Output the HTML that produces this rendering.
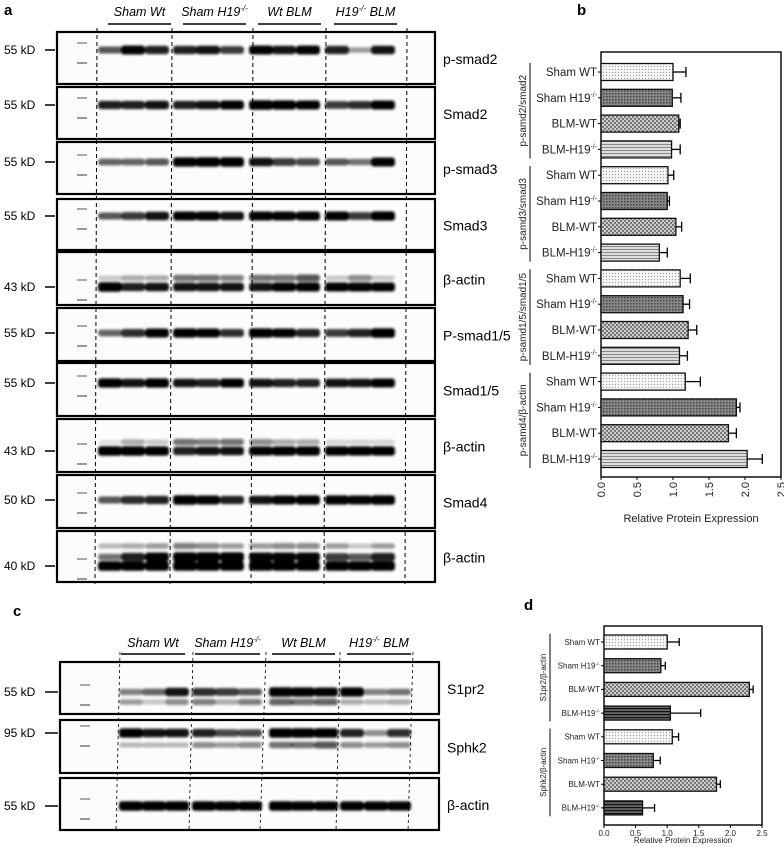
<!DOCTYPE html>
<html><head><meta charset="utf-8">
<style>
body{margin:0;background:#fff;}
svg{display:block;font-family:"Liberation Sans",sans-serif;}
</style></head>
<body>
<svg id="fig" width="784" height="847" viewBox="0 0 784 847" xmlns="http://www.w3.org/2000/svg">
<defs>
<filter id="blur" x="-20%" y="-100%" width="140%" height="300%"><feGaussianBlur stdDeviation="1.4 1.3"/></filter>
<pattern id="pDots" width="3" height="3" patternUnits="userSpaceOnUse"><rect width="3" height="3" fill="#f4f4f4"/><rect width="1" height="1" fill="#999"/></pattern>
<pattern id="pDark" width="3" height="3" patternUnits="userSpaceOnUse"><rect width="3" height="3" fill="#888"/><rect width="1.5" height="1.5" fill="#444"/></pattern>
<pattern id="pCheck" width="4" height="4" patternUnits="userSpaceOnUse"><rect width="4" height="4" fill="#ccc"/><rect width="2" height="2" fill="#777"/><rect x="2" y="2" width="2" height="2" fill="#777"/></pattern>
<pattern id="pStripe" width="3" height="3" patternUnits="userSpaceOnUse"><rect width="3" height="3" fill="#ddd"/><rect width="3" height="1" fill="#888"/></pattern>
<pattern id="pStripeD" width="3" height="3" patternUnits="userSpaceOnUse"><rect width="3" height="3" fill="#666"/><rect width="3" height="1.2" fill="#111"/></pattern>
</defs>
<g id="blots"></g>
<g id="chartB"></g>
<g id="chartD"></g>
<text x="4" y="15" font-size="15" font-weight="bold">a</text>
<text x="577" y="15" font-size="15" font-weight="bold">b</text>
<text x="13" y="616" font-size="15" font-weight="bold">c</text>
<text x="524" y="610" font-size="15" font-weight="bold">d</text>
</svg>
<script>
const NS="http://www.w3.org/2000/svg";
function mk(p,t,a){const e=document.createElementNS(NS,t);for(const k in a)e.setAttribute(k,a[k]);p.appendChild(e);return e;}

// ---------- Blots ----------
const blots=document.getElementById('blots');
const groupsA=["Sham Wt","Sham  H19","Wt  BLM","H19 BLM"];
const rowsA=[
 {name:"p-smad2",kd:"55 kD",y0:32,y1:84,band:[50],I:[[.6,.9,.8,.8,.85,.7,.9,.85,.9,.8,.35,.85]]},
 {name:"Smad2",kd:"55 kD",y0:87,y1:139,band:[105],I:[[.8,.8,.85,.8,.85,.9,1,.95,.9,.7,.75,.9]]},
 {name:"p-smad3",kd:"55 kD",y0:142,y1:194,band:[162],I:[[.55,.55,.6,.95,1,1,.85,.7,.65,.6,.5,.9]]},
 {name:"Smad3",kd:"55 kD",y0:199,y1:250,band:[216],I:[[.6,.7,.85,.9,.9,.85,.9,.9,.9,.9,.7,.95]]},
 {name:"β-actin",kd:"43 kD",y0:252,y1:305,band:[287,278],I:[[1,.8,.85,.85,.85,.85,.85,.9,.9,.9,.9,.9],[.2,.3,.3,.5,.5,.45,.5,.5,.6,.2,.4,.2]]},
 {name:"P-smad1/5",kd:"55 kD",y0:308,y1:361,band:[333],I:[[.55,.75,.9,.95,.9,.75,.95,.9,.8,.7,.8,1]]},
 {name:"Smad1/5",kd:"55 kD",y0:363,y1:416,band:[383],I:[[.95,.85,.95,.85,.8,.9,.85,.8,.8,.85,.85,.9]]},
 {name:"β-actin",kd:"43 kD",y0:419,y1:472,band:[451,442],I:[[1,1,.95,.8,.85,.85,.9,.95,.95,.95,.95,.95],[.1,.3,.2,.5,.45,.5,.4,.3,.3,.15,.15,.15]]},
 {name:"Smad4",kd:"50 kD",y0:475,y1:528,band:[500],I:[[.6,.75,.8,1,.9,.8,.85,.9,.95,.95,.9,1]]},
 {name:"β-actin",kd:"40 kD",y0:531,y1:582,band:[566,557,546],I:[[1,1,1,1,1,1,1,1,1,1,1,1],[.5,.8,.9,1,1,1,.9,.9,.9,.7,.6,.8],[.25,.3,.35,.45,.4,.35,.35,.4,.4,.35,.2,.35]]}
];
const lanesA=[110,133,157,185,208,232,261,284,308,337,360,383];
const dashA=[97,172,253,326,407];
function drawRow(r,lanes,bx0,bx1,lblX,idx,prefix){
  const g=mk(blots,'g',{});
  
  
  mk(g,'rect',{x:bx0,y:r.y0,width:bx1-bx0,height:r.y1-r.y0,fill:'#fcfcfc',stroke:'#000','stroke-width':2.2});
  mk(g,'rect',{x:bx0+20,y:r.band[0]-8,width:10,height:2,fill:'#aaa'});
  mk(g,'rect',{x:bx0+20,y:r.band[0]+12,width:10,height:2,fill:'#999'});
  const bg=mk(g,'g',{filter:'url(#blur)'});
  r.band.forEach((by,bi)=>{
    lanes.forEach((lx,li)=>{
      const v=r.I[bi][li];
      const h=3.5+v*6;
      mk(bg,'rect',{x:lx-12,y:by-h/2,width:24,height:h,rx:3,fill:'#000','fill-opacity':Math.min(1,v*1.1)});
    });
  });
  const kd=mk(g,'text',{x:4,y:r.band[0]+4,'font-size':12});
  kd.textContent=r.kd;
  
  
  mk(g,'line',{x1:45,x2:bx0-2,y1:r.band[0],y2:r.band[0],stroke:'#000','stroke-width':1.5});
  const lb=mk(g,'text',{x:lblX,y:(r.y0+r.y1)/2+6,'font-size':14});
  lb.textContent=r.name;
  
  
}
rowsA.forEach((r,i)=>drawRow(r,lanesA,57,435,443,i,'a'));
dashA.forEach(x=>mk(blots,'line',{x1:x,x2:x-2,y1:28,y2:584,stroke:'#000','stroke-width':1,'stroke-dasharray':'4,3'}));
function headers(names,lineX,ty,ly){
  names.forEach((n,i)=>{
    const cx=(lineX[i][0]+lineX[i][1])/2;
    const t=mk(blots,'text',{x:cx,y:ty,'font-size':12.5,'font-style':'italic','text-anchor':'middle'});
    if(n.indexOf('H19')>=0){
      const parts=n.split('H19');
      t.appendChild(document.createTextNode(parts[0]+'H19'));
      const s=mk(t,'tspan',{dy:-5,'font-size':8});s.textContent='-/-';
      const s2=mk(t,'tspan',{dy:5});s2.textContent=parts[1]||'';
    } else t.textContent=n;
    
    
    mk(blots,'line',{x1:lineX[i][0],x2:lineX[i][1],y1:ly,y2:ly,stroke:'#000','stroke-width':1.6});
  });
}
headers(groupsA,[[108,171],[183,246],[258,321],[334,397]],16,24);

const rowsC=[
 {name:"S1pr2",kd:"55 kD",y0:662,y1:714,band:[692,702],I:[[.45,.55,.85,.75,.7,.6,1,.95,.9,.95,.45,.5],[.35,.2,.4,.45,.3,.45,.55,.5,.55,.3,.25,.3]]},
 {name:"Sphk2",kd:"95 kD",y0:720,y1:773,band:[733,745],I:[[.95,.85,.85,.8,.65,.65,1,1,1,.8,.4,.75],[.25,.25,.25,.4,.35,.4,.5,.5,.6,.4,.35,.4]]},
 {name:"β-actin",kd:"55 kD",y0:778,y1:830,band:[806],I:[[1,1,1,1,.95,.95,1,.95,.95,.95,.95,.95]]}
];
const lanesC=[131,154,177,204,227,250,281,303,326,352,376,399];
rowsC.forEach((r,i)=>drawRow(r,lanesC,60,439,447,i,'c'));
[[120,116],[193,189],[266,260],[340,336],[413,408]].forEach(d=>mk(blots,'line',{x1:d[0],x2:d[1],y1:652,y2:832,stroke:'#000','stroke-width':.8,'stroke-dasharray':'3,3'}));
headers(groupsA,[[121,185],[195,260],[272,335],[347,411]],647,654);

// ---------- Chart b ----------
const catsB=["Sham WT","Sham H19","BLM-WT","BLM-H19","Sham WT","Sham H19","BLM-WT","BLM-H19","Sham WT","Sham H19","BLM-WT","BLM-H19","Sham WT","Sham H19","BLM-WT","BLM-H19"];
const valsB=[1.0,0.99,1.08,0.98,0.93,0.92,1.04,0.81,1.10,1.14,1.21,1.09,1.17,1.88,1.77,2.03];
const errB=[0.18,0.12,0.02,0.12,0.08,0.03,0.08,0.11,0.14,0.09,0.12,0.11,0.21,0.05,0.11,0.21];
const groupsB=["p-samd2/smad2","p-samd3/smad3","p-samd1/5/smad1/5","p-samd4/β-actin"];
const ticksB=[0,0.5,1.0,1.5,2.0,2.5];
const fillsB=['url(#pDots)','url(#pDark)','url(#pCheck)','url(#pStripe)'];

function barChart(gid,cats,vals,errs,groups,ticks,fills,L){
  const g=document.getElementById(gid);
  const xs=v=>L.x0+(v/L.max)*(L.x1-L.x0);
  const ys=i=>L.yFirst+i*L.step;
  mk(g,'rect',{x:L.x0,y:L.y0,width:L.x1-L.x0,height:L.y1-L.y0,fill:'none',stroke:'#000','stroke-width':1.4});
  cats.forEach((c,i)=>{
    const y=ys(i);
    const b=mk(g,'rect',{x:L.x0,y:y-L.bh/2,width:xs(vals[i])-L.x0,height:L.bh,fill:fills[i%4],stroke:'#111','stroke-width':1.3});
    
    
    const ex=xs(vals[i]+errs[i]);
    mk(g,'line',{x1:xs(vals[i]),x2:ex,y1:y,y2:y,stroke:'#000','stroke-width':1.3});
    mk(g,'line',{x1:ex,x2:ex,y1:y-L.cap,y2:y+L.cap,stroke:'#000','stroke-width':1.3});
    mk(g,'line',{x1:L.x0-3,x2:L.x0,y1:y,y2:y,stroke:'#000'});
    const t=mk(g,'text',{x:L.x0-4,y:y+L.fs*0.35,'font-size':L.fs,'text-anchor':'end',fill:'#222'});
    if(c.indexOf('H19')>=0){t.appendChild(document.createTextNode(c));const s=mk(t,'tspan',{dy:-L.fs*0.4,'font-size':L.fs*0.6});s.textContent='-/-';}
    else t.textContent=c;
    
    
  });
  groups.forEach((gn,k)=>{
    const ya=ys(k*4)-L.step*0.35, yb=ys(k*4+3)+L.step*0.35;
    mk(g,'line',{x1:L.gx,x2:L.gx,y1:ya,y2:yb,stroke:'#000','stroke-width':1});
    const cy=(ya+yb)/2;
    const t=mk(g,'text',{x:L.gx-4,y:cy,'font-size':L.gfs,'text-anchor':'middle',transform:`rotate(-90 ${L.gx-4} ${cy})`,fill:'#222'});
    t.textContent=gn;
    
    
  });
  ticks.forEach(v=>{
    const x=xs(v);
    mk(g,'line',{x1:x,x2:x,y1:L.y1,y2:L.y1+3,stroke:'#000'});
    let t;
    if(L.rot){t=mk(g,'text',{x:x+4,y:L.y1+5,'font-size':L.tfs,'text-anchor':'end',transform:`rotate(-90 ${x+4} ${L.y1+5})`,fill:'#222'});}
    else t=mk(g,'text',{x:x,y:L.y1+11,'font-size':L.tfs,'text-anchor':'middle',fill:'#222'});
    t.textContent=v.toFixed(1);
    
    
  });
  const at=mk(g,'text',{x:(L.x0+L.x1)/2,y:L.ty,'font-size':L.tfs,'text-anchor':'middle',fill:'#222'});
  at.textContent='Relative Protein Expression';
  
  
}
barChart('chartB',catsB,valsB,errB,groupsB,ticksB,fillsB,
 {x0:601,x1:781,y0:52,y1:477,max:2.5,yFirst:72,step:25.8,bh:17,cap:5,fs:11.5,gfs:10,gx:530,tfs:11,rot:true,ty:522});

const catsD=["Sham WT","Sham H19","BLM-WT","BLM-H19","Sham WT","Sham H19","BLM-WT","BLM-H19"];
const valsD=[1.0,0.90,2.30,1.05,1.08,0.78,1.78,0.61];
const errD=[0.19,0.07,0.06,0.48,0.10,0.11,0.06,0.19];
const groupsD=["S1pr2/β-actin","Sphk2/β-actin"];
const ticksD=[0,0.5,1.0,1.5,2.0,2.5];
const fillsD=['url(#pDots)','url(#pDark)','url(#pCheck)','url(#pStripeD)'];
barChart('chartD',catsD,valsD,errD,groupsD,ticksD,fillsD,
 {x0:604,x1:762,y0:626,y1:825,max:2.5,yFirst:642,step:23.7,bh:14,cap:4,fs:8,gfs:8,gx:550,tfs:8,rot:false,ty:843});
</script>
</body></html>
